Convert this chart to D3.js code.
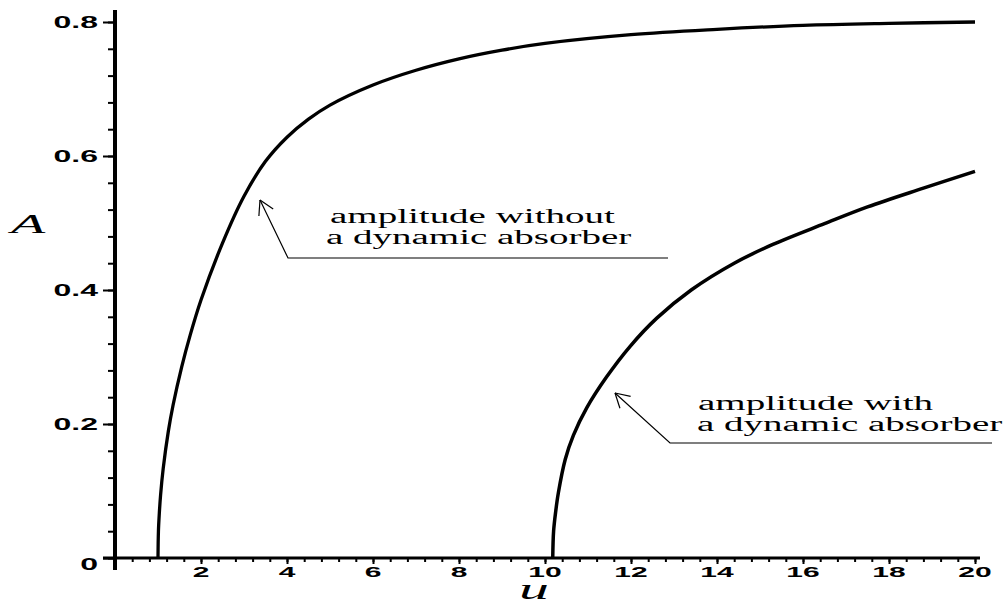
<!DOCTYPE html>
<html lang="en">
<head>
  <meta charset="UTF-8">
  <title>Amplitude vs u</title>
  <style>
    body { margin: 0; background: #fff; }
    svg { display: block; }
  </style>
</head>
<body>
  <script src="https://d3js.org/d3.v7.min.js"></script>
  <script>
    // amplitude without a dynamic absorber
    const uWithout = [1.0, 1.01, 1.03, 1.06, 1.12, 1.24, 1.35, 1.55, 1.75, 2.0, 2.5, 3.0, 3.5, 4.0, 4.5, 5.0, 6.0, 7.0, 8.0, 9.0, 10.0, 12.0, 14.0, 16.0, 18.0, 20.0];
    const aWithout = [0, 0.04, 0.066, 0.094, 0.133, 0.189, 0.228, 0.285, 0.333, 0.385, 0.47, 0.54, 0.592, 0.628, 0.655, 0.676, 0.706, 0.728, 0.745, 0.758, 0.768, 0.781, 0.789, 0.795, 0.798, 0.80];
    // amplitude with a dynamic absorber
    const uWith = [10.18, 10.2, 10.25, 10.31, 10.47, 10.66, 10.97, 11.43, 11.98, 12.6, 13.4, 14.4, 15.3, 16.5, 17.5, 18.8, 20];
    const aWith = [0, 0.04, 0.07, 0.097, 0.147, 0.183, 0.224, 0.27, 0.316, 0.358, 0.40, 0.44, 0.468, 0.499, 0.524, 0.552, 0.577];

    const uTicks = [2, 4, 6, 8, 10, 12, 14, 16, 18, 20];
    const aTicks = [0, 0.2, 0.4, 0.6, 0.8];
    const aTickLabels = ["0", "0.2", "0.4", "0.6", "0.8"];

    const width = 1008;
    const height = 605;
    const stretch = 2; // the picture is wide, glyphs look stretched

    const svg = d3.select("body").append("svg").attr("width", width).attr("height", height);

    const xScale = d3.scaleLinear().domain([0, 20]).range([115, 975]);
    const yScale = d3.scaleLinear().domain([0, 0.8]).range([558, 22]);

    // minor ticks
    svg.append("g")
      .attr("transform", "translate(0," + yScale(0) + ")")
      .call(d3.axisBottom(xScale).tickValues(d3.range(0, 20.01, 0.4)).tickSize(4).tickFormat(""))
      .call(g => g.select(".domain").remove());
    svg.append("g")
      .attr("transform", "translate(" + xScale(0) + ",0)")
      .call(d3.axisLeft(yScale).tickValues(d3.range(0, 0.801, 0.04)).tickSize(7).tickFormat(""))
      .call(g => g.select(".domain").remove());

    // major ticks
    svg.append("g")
      .attr("transform", "translate(0," + yScale(0) + ")")
      .call(d3.axisBottom(xScale).tickValues(uTicks).tickSize(6).tickFormat(""))
      .call(g => g.select(".domain").remove());
    svg.append("g")
      .attr("transform", "translate(" + xScale(0) + ",0)")
      .call(d3.axisLeft(yScale).tickValues(aTicks).tickSize(12).tickFormat(""))
      .call(g => g.select(".domain").remove());

    svg.selectAll(".tick line").attr("stroke", "#000").attr("stroke-width", 2);

    // axis lines
    svg.append("line")
      .attr("x1", xScale(0) - 12).attr("x2", xScale(20) + 5)
      .attr("y1", yScale(0)).attr("y2", yScale(0))
      .attr("stroke", "#000").attr("stroke-width", 3);
    svg.append("line")
      .attr("x1", xScale(0)).attr("x2", xScale(0))
      .attr("y1", yScale(0) + 12).attr("y2", 10)
      .attr("stroke", "#000").attr("stroke-width", 4);

    // tick labels
    svg.selectAll("text.xlab")
      .data(uTicks)
      .enter()
      .append("text")
      .attr("class", "xlab")
      .attr("transform", d => "translate(" + xScale(d) + "," + (yScale(0) + 19) + ") scale(" + stretch + ",1)")
      .attr("text-anchor", "middle")
      .attr("font-family", "Liberation Sans, Arial, sans-serif")
      .attr("font-weight", "bold")
      .attr("font-size", 15)
      .text(d => d);

    svg.selectAll("text.ylab")
      .data(aTicks)
      .enter()
      .append("text")
      .attr("class", "ylab")
      .attr("transform", (d, i) => "translate(98," + (yScale(d) + (i == 0 ? 12 : 6)) + ") scale(" + stretch + ",1)")
      .attr("text-anchor", "end")
      .attr("font-family", "Liberation Sans, Arial, sans-serif")
      .attr("font-weight", "bold")
      .attr("font-size", 16)
      .text((d, i) => aTickLabels[i]);

    // axis titles
    svg.append("text")
      .attr("transform", "translate(28,233) scale(" + stretch + ",1)")
      .attr("text-anchor", "middle")
      .attr("font-family", "Liberation Serif, Times New Roman, serif")
      .attr("font-style", "italic")
      .attr("font-size", 28)
      .text("A");
    svg.append("text")
      .attr("transform", "translate(534,599) scale(" + stretch + ",1)")
      .attr("text-anchor", "middle")
      .attr("font-family", "Liberation Serif, Times New Roman, serif")
      .attr("font-style", "italic")
      .attr("font-size", 30)
      .text("u");

    // curves
    const line = d3.line()
      .x(d => xScale(d[0]))
      .y(d => yScale(d[1]))
      .curve(d3.curveCatmullRom.alpha(0.5));

    svg.append("path")
      .datum(uWithout.map((u, i) => [u, aWithout[i]]))
      .attr("d", line)
      .attr("fill", "none")
      .attr("stroke", "#000")
      .attr("stroke-width", 3.3);

    svg.append("path")
      .datum(uWith.map((u, i) => [u, aWith[i]]))
      .attr("d", line)
      .attr("fill", "none")
      .attr("stroke", "#000")
      .attr("stroke-width", 3.5);

    // annotations
    const notes = [
      { lines: ["amplitude without", "a dynamic absorber"], tip: [260, 200], base: [288, 258], end: 668, tx: [330, 326], ty: 223 },
      { lines: ["amplitude with", "a dynamic absorber"], tip: [615, 393], base: [670, 443], end: 992, tx: [698, 697], ty: 410 }
    ];

    notes.forEach(n => {
      const g = svg.append("g");
      g.append("polyline")
        .attr("points", [[n.end, n.base[1]], n.base, n.tip].map(p => p.join(",")).join(" "))
        .attr("fill", "none").attr("stroke", "#000").attr("stroke-width", 1.2);
      const ang = Math.atan2(n.base[1] - n.tip[1], n.base[0] - n.tip[0]);
      [-0.52, 0.52].forEach(da => {
        g.append("line")
          .attr("x1", n.tip[0]).attr("y1", n.tip[1])
          .attr("x2", n.tip[0] + 16 * Math.cos(ang + da))
          .attr("y2", n.tip[1] + 16 * Math.sin(ang + da))
          .attr("stroke", "#000").attr("stroke-width", 1.2);
      });
      n.lines.forEach((t, i) => {
        g.append("text")
          .attr("transform", "translate(" + n.tx[i] + "," + (n.ty + i * 20.5) + ") scale(1.95,1)")
          .attr("font-family", "Liberation Serif, Times New Roman, serif")
          .attr("font-size", 20)
          .text(t);
      });
    });
  </script>
</body>
</html>
